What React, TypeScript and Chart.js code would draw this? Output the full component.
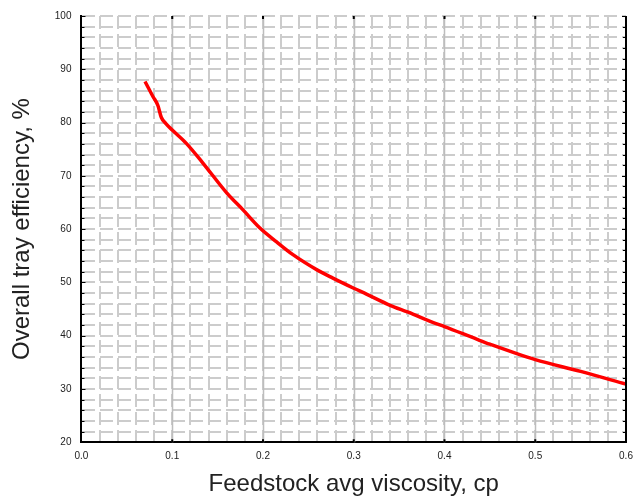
import React, { useEffect, useRef } from "react";
import { Chart, registerables } from "chart.js";

Chart.register(...registerables);

const viscosity = [0.07, 0.0787, 0.0842, 0.0879, 0.093, 0.1, 0.1155, 0.1338, 0.16, 0.178, 0.196, 0.215, 0.233, 0.26, 0.277, 0.3, 0.314, 0.34, 0.36, 0.387, 0.4, 0.436, 0.45, 0.5, 0.55, 0.6];
const efficiency = [87.7, 84.9, 83.2, 81, 79.8, 78.6, 76.1, 72.4, 66.8, 63.6, 60.3, 57.6, 55.2, 52.3, 50.8, 48.9, 47.8, 45.7, 44.4, 42.5, 41.7, 39.3, 38.4, 35.5, 33.3, 30.9];
const xMajorTicks = [0.1, 0.2, 0.3, 0.4, 0.5];
const xTitle = "Feedstock avg viscosity, cp";
const yTitle = "Overall tray efficiency, %";

const gridPlugin = {
  id: "majorGrid",
  beforeDatasetsDraw(chart: any) {
    const { ctx, chartArea, scales } = chart;
    ctx.save();
    ctx.strokeStyle = "#bdbdbd";
    ctx.lineWidth = 1.5;
    xMajorTicks.forEach((v) => {
      const px = Math.round(scales.x.getPixelForValue(v)) + 0.5;
      ctx.beginPath();
      ctx.moveTo(px, chartArea.top);
      ctx.lineTo(px, chartArea.bottom);
      ctx.stroke();
    });
    ctx.restore();
  },
  afterDatasetsDraw(chart: any) {
    const { ctx, chartArea, scales } = chart;
    ctx.save();
    ctx.strokeStyle = "#000";
    ctx.lineWidth = 2;
    ctx.beginPath();
    ctx.moveTo(chartArea.right, chartArea.top);
    ctx.lineTo(chartArea.right, chartArea.bottom);
    ctx.stroke();
    ctx.lineWidth = 1;
    scales.y.ticks.forEach((t: any) => {
      const py = Math.round(scales.y.getPixelForValue(t.value)) + 0.5;
      const len = t.value % 10 === 0 ? 4 : 3;
      ctx.beginPath();
      ctx.moveTo(chartArea.left, py);
      ctx.lineTo(chartArea.left + len, py);
      ctx.stroke();
      ctx.beginPath();
      ctx.moveTo(chartArea.right, py);
      ctx.lineTo(chartArea.right - len, py);
      ctx.stroke();
    });
    ctx.lineWidth = 2;
    xMajorTicks.forEach((v) => {
      const px = scales.x.getPixelForValue(v);
      ctx.beginPath();
      ctx.moveTo(px, chartArea.bottom);
      ctx.lineTo(px, chartArea.bottom - 3);
      ctx.moveTo(px, chartArea.top);
      ctx.lineTo(px, chartArea.top + 3);
      ctx.stroke();
    });
    ctx.restore();
  },
};

export default function App() {
  const ref = useRef<HTMLCanvasElement>(null);
  useEffect(() => {
    if (!ref.current) return;
    const points = viscosity.map((x, i) => ({ x, y: efficiency[i] }));
    const chart = new Chart(ref.current, {
      type: "line",
      data: {
        datasets: [
          {
            data: points,
            borderColor: "#ff0000",
            borderWidth: 3.5,
            pointRadius: 0,
            fill: false,
            cubicInterpolationMode: "monotone",
          },
        ],
      },
      options: {
        animation: false,
        responsive: true,
        maintainAspectRatio: false,
        layout: { padding: { top: 16, right: 11, left: 8, bottom: 0 } },
        plugins: { legend: { display: false }, tooltip: { enabled: false } },
        scales: {
          x: {
            type: "linear",
            min: 0,
            max: 0.6,
            afterFit: (scale: any) => {
              scale.paddingRight = 0;
            },
            ticks: {
              stepSize: 0.02,
              autoSkip: false,
              maxRotation: 0,
              color: "#222",
              font: { family: "Liberation Sans", size: 10 },
              padding: 8,
              callback: (v: any) => {
                const n = Math.round(Number(v) * 100);
                return n % 10 === 0 ? (n / 100).toFixed(1) : "";
              },
            },
            grid: { color: "#cccccc", lineWidth: 2, drawTicks: false },
            border: { display: true, color: "#000", width: 2, dash: [13, 5] },
            title: {
              display: true,
              text: xTitle,
              color: "#222",
              font: { family: "Liberation Sans", size: 24 },
              padding: { top: 0, bottom: 0 },
            },
          },
          y: {
            type: "linear",
            min: 20,
            max: 100,
            ticks: {
              stepSize: 2,
              autoSkip: false,
              color: "#222",
              font: { family: "Liberation Sans", size: 10 },
              padding: 10,
              callback: (v: any) => (Number(v) % 10 === 0 ? String(v) : ""),
            },
            grid: { color: "#cccccc", lineWidth: 2, drawTicks: false },
            border: { display: true, color: "#000", width: 2, dash: [13, 5] },
            title: {
              display: true,
              text: yTitle,
              color: "#222",
              font: { family: "Liberation Sans", size: 24 },
              padding: { top: 0, bottom: 8 },
            },
          },
        },
      },
      plugins: [gridPlugin],
    });
    return () => chart.destroy();
  }, []);
  return (
    <div style={{ position: "fixed", left: 0, top: 0, width: 637, height: 499, background: "#fff" }}>
      <canvas ref={ref} />
    </div>
  );
}
